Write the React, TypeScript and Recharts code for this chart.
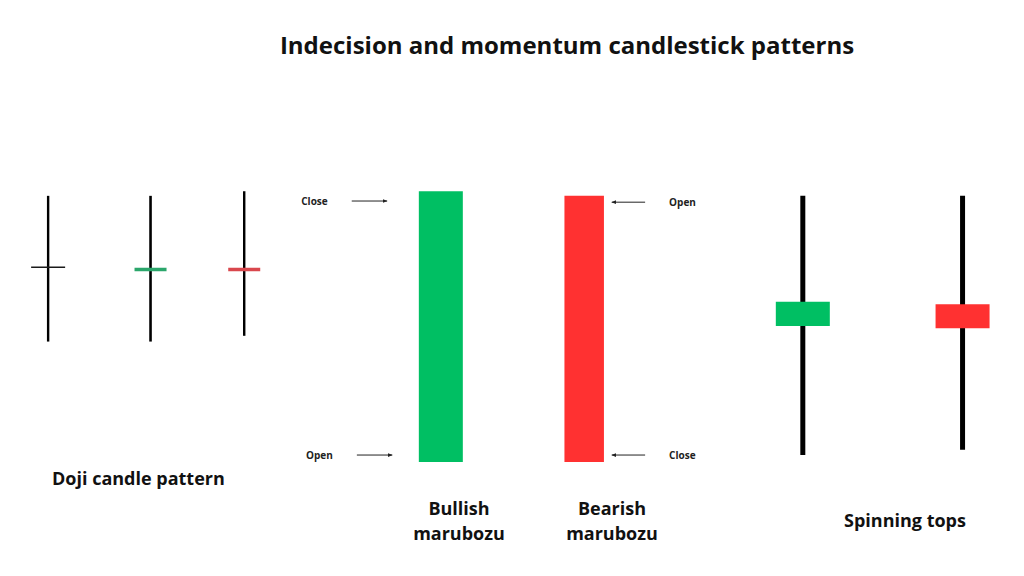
import { ComposedChart, Line, Scatter, XAxis, YAxis, ReferenceLine } from "recharts";

// horizontal slot of each candle (0..100 across the picture), prices on a 0..100 scale
const candleNames = [
  "Doji",
  "Doji bullish",
  "Doji bearish",
  "Bullish marubozu",
  "Bearish marubozu",
  "Spinning top bullish",
  "Spinning top bearish",
];
const candleSlots = [4.7, 14.7, 23.85, 43.05, 57.05, 78.4, 94.0];
const highs = [66.0, 66.0, 66.8, 66.8, 66.0, 66.0, 66.0];
const lows = [40.7, 40.7, 41.7, 19.8, 19.8, 21.0, 21.9];
const opens = [53.6, 53.2, 53.2, 19.8, 66.0, 43.4, 47.2];
const closes = [53.6, 53.2, 53.2, 66.8, 19.8, 47.6, 43.0];

// open / close pointers next to the marubozu candles
const arrowLabels = ["Close", "Open", "Open", "Close"];
const arrowPrices = [65.1, 21.0, 64.9, 21.0];
const arrowFrom = [34.35, 34.85, 63.0, 63.0];
const arrowTo = [37.8, 38.3, 59.75, 59.75];

const GREEN = "#00bf63";
const RED = "#ff3131";

const candleStyles = [
  { wick: 2.4, body: 34, tick: 1.6, color: "#1a1a1a" },
  { wick: 2.6, body: 32, tick: 3.6, color: "#2ba66b" },
  { wick: 2.4, body: 32, tick: 3.6, color: "#d9474d" },
  { wick: 2.5, body: 44, tick: 0, color: GREEN },
  { wick: 2.5, body: 39.5, tick: 0, color: RED },
  { wick: 5, body: 54, tick: 0, color: GREEN },
  { wick: 5, body: 54, tick: 0, color: RED },
];

const textBold = { fontFamily: "'Open Sans', sans-serif", fontWeight: 700, color: "#111", whiteSpace: "nowrap" as const };

export default function App() {
  return (
    <div style={{ position: "absolute", left: 0, top: 0, width: 1024, height: 576, background: "#fff" }}>
      <ComposedChart width={1024} height={576} margin={{ top: 0, right: 0, bottom: 0, left: 0 }}>
        <defs>
          <marker id="arrowHead" viewBox="0 0 10 10" refX="9" refY="5" markerWidth="5" markerHeight="5" orient="auto">
            <path d="M0,1 L10,5 L0,9 z" fill="#222" />
          </marker>
        </defs>
        <XAxis dataKey="x" type="number" domain={[0, 100]} allowDataOverflow hide />
        <YAxis dataKey="p" type="number" domain={[0, 100]} allowDataOverflow hide />

        {candleNames.map((name, i) => {
          const s = candleStyles[i];
          const x = candleSlots[i];
          const top = Math.max(opens[i], closes[i]);
          const bottom = Math.min(opens[i], closes[i]);
          const hasWick = highs[i] > top || lows[i] < bottom;
          return [
            hasWick && (
              <Line
                key={name + "-wick"}
                data={[{ x, p: lows[i] }, { x, p: highs[i] }]}
                dataKey="p"
                stroke="#000"
                strokeWidth={s.wick}
                dot={false}
                activeDot={false}
                isAnimationActive={false}
              />
            ),
            top > bottom ? (
              <Line
                key={name + "-body"}
                data={[{ x, p: bottom }, { x, p: top }]}
                dataKey="p"
                stroke={s.color}
                strokeWidth={s.body}
                strokeLinecap="butt"
                dot={false}
                activeDot={false}
                isAnimationActive={false}
              />
            ) : (
              <Scatter
                key={name + "-tick"}
                data={[{ x, p: opens[i] }]}
                dataKey="p"
                isAnimationActive={false}
                shape={(props: any) => (
                  <line
                    x1={props.cx - s.body / 2}
                    x2={props.cx + s.body / 2}
                    y1={props.cy}
                    y2={props.cy}
                    stroke={s.color}
                    strokeWidth={s.tick}
                  />
                )}
              />
            ),
          ];
        })}

        {arrowLabels.map((label, i) => (
          <ReferenceLine
            key={"arrow-" + i}
            segment={[
              { x: arrowFrom[i], y: arrowPrices[i] },
              { x: arrowTo[i], y: arrowPrices[i] },
            ]}
            stroke="#222"
            strokeWidth={1}
            markerEnd="url(#arrowHead)"
            ifOverflow="visible"
            label={{
              value: label,
              position: arrowFrom[i] < arrowTo[i] ? "left" : "right",
              offset: 24,
              fontSize: 10,
              fontWeight: 700,
              fill: "#222",
              fontFamily: "'Open Sans', sans-serif",
            }}
          />
        ))}
      </ComposedChart>

      <div style={{ ...textBold, position: "absolute", left: 567, top: 28, transform: "translateX(-50%)", fontSize: 24 }}>
        Indecision and momentum candlestick patterns
      </div>
      <div style={{ ...textBold, position: "absolute", left: 52, top: 466, fontSize: 18 }}>Doji candle pattern</div>
      <div style={{ ...textBold, position: "absolute", left: 459, top: 496, transform: "translateX(-50%)", fontSize: 18, lineHeight: "25px", textAlign: "center" }}>
        Bullish
        <br />
        marubozu
      </div>
      <div style={{ ...textBold, position: "absolute", left: 612, top: 496, transform: "translateX(-50%)", fontSize: 18, lineHeight: "25px", textAlign: "center" }}>
        Bearish
        <br />
        marubozu
      </div>
      <div style={{ ...textBold, position: "absolute", left: 905, top: 508, transform: "translateX(-50%)", fontSize: 18 }}>Spinning tops</div>
    </div>
  );
}
